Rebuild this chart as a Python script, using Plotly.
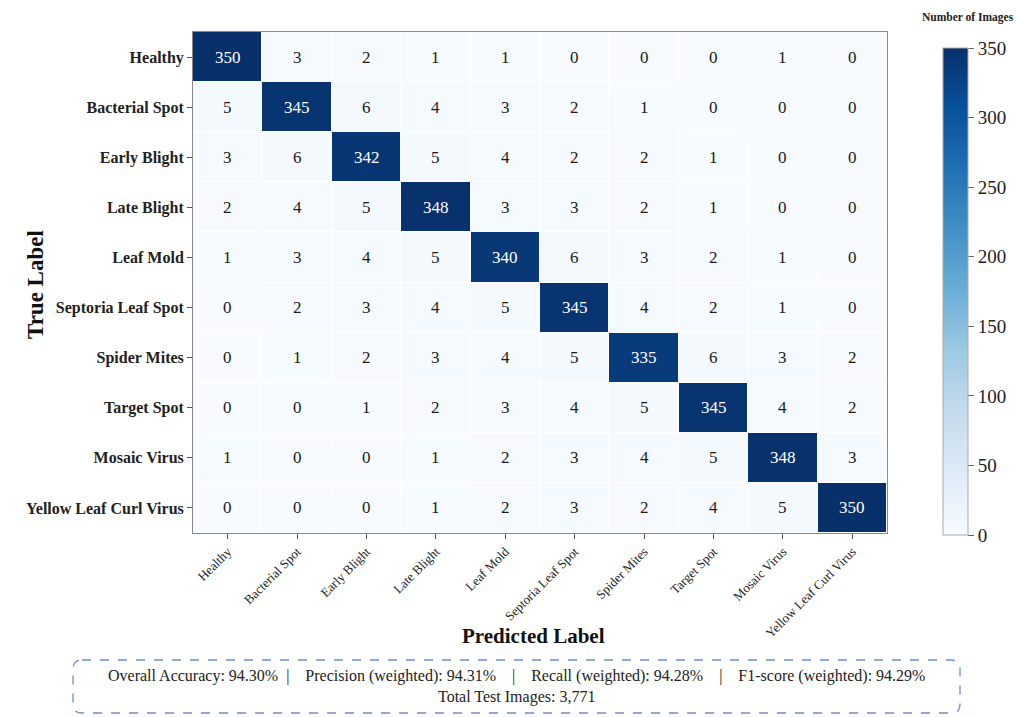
import plotly.graph_objects as go

classes = ["Healthy", "Bacterial Spot", "Early Blight", "Late Blight", "Leaf Mold",
           "Septoria Leaf Spot", "Spider Mites", "Target Spot", "Mosaic Virus",
           "Yellow Leaf Curl Virus"]

row_healthy = [350, 3, 2, 1, 1, 0, 0, 0, 1, 0]
row_bacterial = [5, 345, 6, 4, 3, 2, 1, 0, 0, 0]
row_early = [3, 6, 342, 5, 4, 2, 2, 1, 0, 0]
row_late = [2, 4, 5, 348, 3, 3, 2, 1, 0, 0]
row_mold = [1, 3, 4, 5, 340, 6, 3, 2, 1, 0]
row_septoria = [0, 2, 3, 4, 5, 345, 4, 2, 1, 0]
row_spider = [0, 1, 2, 3, 4, 5, 335, 6, 3, 2]
row_target = [0, 0, 1, 2, 3, 4, 5, 345, 4, 2]
row_mosaic = [1, 0, 0, 1, 2, 3, 4, 5, 348, 3]
row_yellow = [0, 0, 0, 1, 2, 3, 2, 4, 5, 350]

matrix = [row_healthy, row_bacterial, row_early, row_late, row_mold,
          row_septoria, row_spider, row_target, row_mosaic, row_yellow]

colorbar_ticks = [0, 50, 100, 150, 200, 250, 300, 350]

metrics_line1 = ("Overall Accuracy: 94.30%  |    Precision (weighted): 94.31%    |    "
                 "Recall (weighted): 94.28%    |    F1-score (weighted): 94.29%")
metrics_line2 = "Total Test Images: 3,771"

FONT = "Liberation Serif, Times New Roman, serif"

W, H = 1027, 717
pl, pr, pt, pb = 193, 140, 32, 184
pw, ph = W - pl - pr, H - pt - pb


def tx(x):
    return (x - pl) / pw


def ty(y):
    return 1 - (y - pt) / ph


fig = go.Figure()
fig.add_trace(go.Heatmap(
    z=matrix, x=classes, y=classes,
    colorscale="Blues", zmin=0, zmax=350,
    xgap=1, ygap=1,
    colorbar=dict(
        thickness=25, len=487, lenmode="pixels",
        x=tx(943), xanchor="left", xpad=0, y=ty(535), yanchor="bottom", ypad=0,
        tickvals=colorbar_ticks,
        ticks="outside", ticklen=6, tickcolor="#666",
        tickfont=dict(family=FONT, size=19, color="#222"),
        outlinecolor="#aaa", outlinewidth=1,
    ),
))

for i, row in enumerate(matrix):
    for j, v in enumerate(row):
        fig.add_annotation(
            x=classes[j], y=classes[i], text=str(v), showarrow=False,
            font=dict(family=FONT, size=17,
                      color="white" if v > 175 else "#1a1a1a"),
        )

fig.add_annotation(
    x=tx(968), y=ty(18), xref="paper", yref="paper",
    text="<b>Number of Images</b>", showarrow=False,
    font=dict(family=FONT, size=11.5, color="#222"),
    xanchor="center", yanchor="middle",
)

fig.add_annotation(
    x=tx(35), y=ty(285), xref="paper", yref="paper",
    text="<b>True Label</b>", showarrow=False, textangle=-90,
    font=dict(family=FONT, size=23, color="#111"),
    xanchor="center", yanchor="middle",
)

fig.add_annotation(
    x=tx(533), y=ty(636), xref="paper", yref="paper",
    text="<b>Predicted Label</b>", showarrow=False,
    font=dict(family=FONT, size=21, color="#111"),
    xanchor="center", yanchor="middle",
)

fig.update_xaxes(
    tickangle=-45, tickfont=dict(family=FONT, size=13, color="#222"),
    ticks="outside", ticklen=5, tickcolor="#555",
    showline=True, linecolor="#888", linewidth=1, mirror=True,
)
fig.update_yaxes(
    autorange="reversed",
    tickfont=dict(family=FONT, size=16, color="#222", weight="bold"),
    ticks="outside", ticklen=5, tickcolor="#555",
    showline=True, linecolor="#888", linewidth=1, mirror=True,
)

# rounded dashed box for metrics
x0, x1, y0, y1, r = 73, 960, 660, 713, 9
path_paper = (f"M {tx(x0+r)},{ty(y0)} L {tx(x1-r)},{ty(y0)} Q {tx(x1)},{ty(y0)} {tx(x1)},{ty(y0+r)} "
              f"L {tx(x1)},{ty(y1-r)} Q {tx(x1)},{ty(y1)} {tx(x1-r)},{ty(y1)} L {tx(x0+r)},{ty(y1)} "
              f"Q {tx(x0)},{ty(y1)} {tx(x0)},{ty(y1-r)} L {tx(x0)},{ty(y0+r)} Q {tx(x0)},{ty(y0)} {tx(x0+r)},{ty(y0)} Z")
fig.add_shape(type="path", path=path_paper, xref="paper", yref="paper",
              line=dict(color="#6f8fcf", width=1.3, dash="dash"), fillcolor="white")
fig.add_annotation(
    x=tx((x0 + x1) / 2), y=ty((y0 + y1) / 2), xref="paper", yref="paper",
    text=metrics_line1 + "<br>" + metrics_line2, showarrow=False,
    font=dict(family=FONT, size=16, color="#222"), align="center",
    xanchor="center", yanchor="middle",
)

fig.update_layout(
    width=W, height=H,
    margin=dict(l=pl, r=pr, t=pt, b=pb),
    paper_bgcolor="white", plot_bgcolor="white",
    font=dict(family=FONT),
)

fig.write_html("out.html")
